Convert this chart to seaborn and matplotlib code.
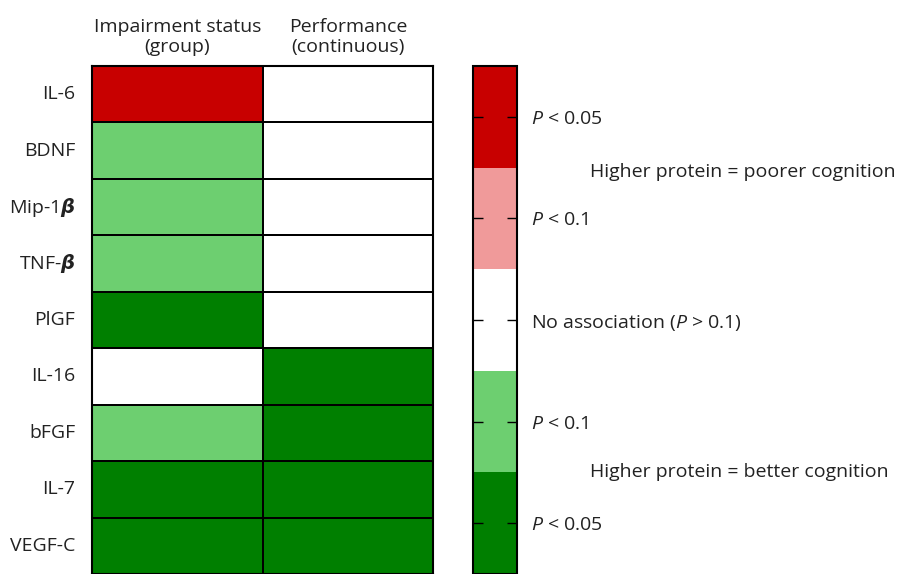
import numpy as np
import pandas as pd
import matplotlib
matplotlib.use("Agg")
import matplotlib.pyplot as plt
from matplotlib.colors import ListedColormap
import seaborn as sns

proteins = ["IL-6", "BDNF", r"Mip-1$\boldsymbol{\beta}$", r"TNF-$\boldsymbol{\beta}$", "PlGF",
            "IL-16", "bFGF", "IL-7", "VEGF-C"]
columns = ["Impairment status\n(group)", "Performance\n(continuous)"]
# coding: 2 = P<0.05 poorer, 1 = P<0.1 poorer, 0 = none, -1 = P<0.1 better, -2 = P<0.05 better
impairment = [2, -1, -1, -1, -2, 0, -1, -2, -2]
performance = [0, 0, 0, 0, 0, -2, -2, -2, -2]
levels = [-2, -1, 0, 1, 2]
level_labels = [r"$P$ < 0.05", r"$P$ < 0.1", r"No association ($P$ > 0.1)", r"$P$ < 0.1", r"$P$ < 0.05"]
level_colors = ["#007f00", "#6dcf70", "#ffffff", "#f09a9a", "#c80000"]

sns.set_theme(style="white")
plt.rcParams['font.family'] = ['Open Sans', 'DejaVu Sans']
plt.rcParams['mathtext.fontset'] = 'custom'
plt.rcParams['mathtext.rm'] = 'Open Sans'
plt.rcParams['mathtext.it'] = 'Open Sans:italic'
plt.rcParams['mathtext.bf'] = 'Open Sans:bold:italic'

txt = "#222222"
fs = 14

df = pd.DataFrame({columns[0]: impairment, columns[1]: performance}, index=proteins)
cmap = ListedColormap(level_colors)

fig = plt.figure(figsize=(9.01, 5.74), dpi=100)
ax = fig.add_axes([0.102, 0.0, 0.379, 0.885])
cax = fig.add_axes([0.525, 0.0, 0.049, 0.885])

sns.heatmap(df, ax=ax, cmap=cmap, vmin=-2.5, vmax=2.5, linewidths=1.2, linecolor="black",
            cbar=True, cbar_ax=cax, cbar_kws={"ticks": levels})

ax.xaxis.tick_top()
ax.set_xticklabels(columns, fontsize=fs, color=txt, linespacing=1.15)
ax.set_yticklabels(proteins, rotation=0, fontsize=fs, color=txt)
ax.tick_params(axis="y", length=0, pad=12)
ax.tick_params(axis="x", length=0, pad=7)
for s in ax.spines.values():
    s.set_visible(True)
    s.set_color("black")
    s.set_linewidth(1.5)

cb = ax.collections[0].colorbar
cb.outline.set_edgecolor("black")
cb.outline.set_linewidth(1.5)
cb.set_ticks(levels)
cb.set_ticklabels(level_labels)
cax.set_axisbelow(False)
cax.tick_params(axis="y", direction="in", left=True, right=True, length=7, width=1,
                colors="black", labelsize=fs, labelcolor=txt, pad=10)

fig.text(0.655, 0.700, "Higher protein = poorer cognition", fontsize=fs, color=txt, va="center")
fig.text(0.655, 0.178, "Higher protein = better cognition", fontsize=fs, color=txt, va="center")

fig.savefig("out.png", dpi=100)
